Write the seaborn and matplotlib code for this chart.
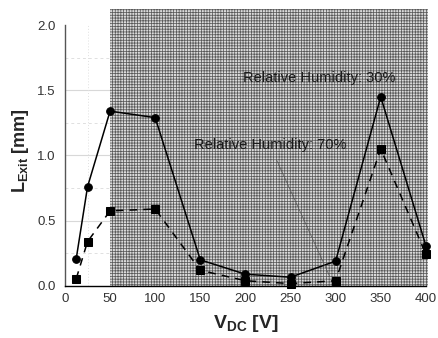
import matplotlib
matplotlib.use("Agg")
import matplotlib.pyplot as plt
import seaborn as sns
import pandas as pd
from matplotlib.patches import Rectangle
from matplotlib.ticker import MultipleLocator

voltage = [12.5, 25, 50, 100, 150, 200, 250, 300, 350, 400]
rh30 = [0.21, 0.76, 1.34, 1.29, 0.20, 0.09, 0.067, 0.19, 1.45, 0.31]
rh70 = [0.056, 0.34, 0.575, 0.59, 0.12, 0.04, 0.018, 0.04, 1.05, 0.245]
xticks = [0, 50, 100, 150, 200, 250, 300, 350, 400]
yticks = [0.0, 0.5, 1.0, 1.5, 2.0]
label30 = "Relative Humidity: 30%"
label70 = "Relative Humidity: 70%"

sns.set_style("white")
plt.rcParams['font.family'] = ['Liberation Sans', 'DejaVu Sans']
plt.rcParams['mathtext.fontset'] = 'custom'
plt.rcParams['mathtext.rm'] = 'Liberation Sans'
plt.rcParams['mathtext.bf'] = 'Liberation Sans:bold'
plt.rcParams['mathtext.it'] = 'Liberation Sans:italic'
plt.rcParams['hatch.linewidth'] = 0.55

fig = plt.figure(figsize=(4.39, 3.38), dpi=100)
ax = fig.add_axes([0.148, 0.154, 0.822, 0.772])

df30 = pd.DataFrame({"V": voltage, "L": rh30})
df70 = pd.DataFrame({"V": voltage, "L": rh70})

ax.set_xlim(0, 400)
ax.set_ylim(0, 2.0)
ax.set_axisbelow(True)

# gridlines
for y in [0.5, 1.0, 1.5]:
    ax.axhline(y, color='#d8d8d8', lw=0.8, zorder=0.3)
for y in [0.25, 0.75, 1.25, 1.75]:
    ax.axhline(y, color='#e0e0e0', lw=0.7, ls=(0, (3, 3)), zorder=0.3)
ax.axvline(25, color='#e0e0e0', lw=0.7, ls=(0, (1, 2)), zorder=0.3)

# hatched region
rect = Rectangle((50, 0), 352, 2.123, facecolor='#dadada', edgecolor='#5a5a5a',
                 linewidth=0, hatch='++++++', clip_on=False, zorder=1)
ax.add_patch(rect)

sns.lineplot(data=df30, x="V", y="L", ax=ax, color='black', lw=1.1,
             marker='o', markersize=5.5, markeredgecolor='black', zorder=3)
sns.lineplot(data=df70, x="V", y="L", ax=ax, color='black', lw=1.1,
             linestyle=(0, (5, 4)), marker='s', markersize=5.5,
             markeredgecolor='black', zorder=3)
for l in ax.lines:
    l.set_clip_on(False)

ax.text(282, 1.594, label30, ha='center', va='center', fontsize=10.5, color='#1a1a1a', zorder=4)
ax.annotate(label70, xy=(295, 0.05), xytext=(227, 1.08), ha='center', va='center',
            fontsize=10.5, color='#1a1a1a', zorder=4,
            arrowprops=dict(arrowstyle='-', color='#555555', lw=0.5,
                            shrinkA=4, shrinkB=3))

ax.set_xticks(xticks)
ax.set_yticks(yticks)
ax.set_yticklabels([f"{v:.1f}" for v in yticks])
ax.xaxis.set_minor_locator(MultipleLocator(25))
ax.yaxis.set_minor_locator(MultipleLocator(0.25))
ax.tick_params(axis='both', which='major', labelsize=9.5, labelcolor='#333333',
               direction='inout', length=6, width=0.8, color='#444444')
ax.tick_params(axis='both', which='minor', direction='in', length=3, width=0.7, color='#444444')
ax.tick_params(axis='x', pad=2)

for s in ['top', 'right']:
    ax.spines[s].set_visible(False)
ax.spines['left'].set_color('#555555')
ax.spines['left'].set_linewidth(1.0)
ax.spines['bottom'].set_color('black')
ax.spines['bottom'].set_linewidth(1.0)
ax.spines['bottom'].set_zorder(5)

ax.set_xlabel(r"$\mathbf{V_{DC}}$ [V]", fontsize=14, fontweight='bold', labelpad=6)
ax.set_ylabel(r"$\mathbf{L_{Exit}}$ [mm]", fontsize=13, fontweight='bold', labelpad=4)
ax.yaxis.set_label_coords(-0.095, 0.52)

fig.savefig("out.png", dpi=100)
